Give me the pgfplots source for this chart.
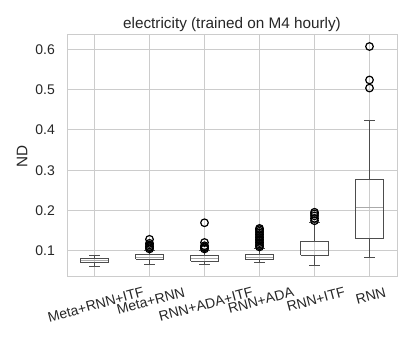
\documentclass[border=0pt]{standalone}
\usepackage{fontspec}
\setmainfont{Liberation Sans}
\usepackage{pgfplots}
\pgfplotsset{compat=1.18}

\definecolor{gridc}{HTML}{CCCCCC}
\definecolor{txt}{HTML}{262626}
\definecolor{boxc}{HTML}{4D4D4D}
\definecolor{medc}{HTML}{AAAAAA}

% rotated tick label whose rotated box top sits on one line (like ha=center)
\newlength\labw
\newcommand\lab[1]{\setbox0=\hbox{#1}\labw=0.1294\wd0\relax
  \raisebox{0pt}[\dimexpr\ht0+0.9659\labw\relax][\dp0]{\copy0\hskip0.5176\labw}}

% one box: position, lower whisker, lower quartile, median, upper quartile, upper whisker
\newcommand\bx[6]{%
  \pgfmathsetmacro\bxl{#1-0.25}\pgfmathsetmacro\bxr{#1+0.25}%
  \pgfmathsetmacro\bcl{#1-0.1}\pgfmathsetmacro\bcr{#1+0.1}%
  \edef\tmp{\noexpand\addplot[boxc, line width=1bp, mark=none, line join=miter, unbounded coords=jump]
    coordinates {(\bxl,#3)(\bxr,#3)(\bxr,#5)(\bxl,#5)(\bxl,#3) (#1,nan)
      (#1,#5)(#1,#6) (#1,nan) (\bcl,#6)(\bcr,#6) (#1,nan)
      (#1,#3)(#1,#2) (#1,nan) (\bcl,#2)(\bcr,#2)};
    \noexpand\addplot[medc, line width=1bp, mark=none] coordinates {(\bxl,#4)(\bxr,#4)};}%
  \tmp}

\begin{document}
\begin{tikzpicture}
\begin{axis}[
  scale only axis,
  width=330bp, height=242bp,
  xmin=0.5, xmax=6.5,
  ymin=0.0355, ymax=0.6355,
  xtick={1,2,3,4,5,6},
  xticklabels={\lab{Meta+RNN+ITF},\lab{Meta+RNN},\lab{RNN+ADA+ITF},\lab{RNN+ADA},\lab{RNN+ITF},\lab{RNN}},
  ytick={0.1,0.2,0.3,0.4,0.5,0.6},
  grid=major,
  grid style={gridc, line width=1bp},
  axis line style={gridc, line width=1bp},
  major tick length=0pt,
  xticklabel style={yshift=-10bp, rotate=15, anchor=north, inner sep=0pt,
    font=\fontsize{14bp}{16bp}\selectfont, text=txt},
  yticklabel style={xshift=-12bp, anchor=east, inner sep=0pt,
    font=\fontsize{14bp}{16bp}\selectfont, text=txt,
    /pgf/number format/fixed, /pgf/number format/fixed zerofill,
    /pgf/number format/precision=1, /pgf/number format/assume math mode=true},
  title={electricity (trained on M4 hourly)},
  title style={at={(axis description cs:0.5,1)}, anchor=base, yshift=1bp,
    font=\fontsize{15.3bp}{18bp}\selectfont, text=txt},
  ylabel={ND},
  ylabel style={at={(axis description cs:-0.1364,0.5)}, anchor=center,
    font=\fontsize{15.3bp}{18bp}\selectfont, text=txt},
  outl/.style={only marks, mark=o, mark size=3.8bp, black, line width=1.2bp},
]
\bx{1}{0.062}{0.071}{0.076}{0.081}{0.090}
\bx{2}{0.067}{0.079}{0.085}{0.091}{0.102}
\bx{3}{0.067}{0.075}{0.081}{0.088}{0.102}
\bx{4}{0.071}{0.078}{0.085}{0.091}{0.107}
\bx{5}{0.065}{0.089}{0.102}{0.123}{0.171}
\bx{6}{0.083}{0.130}{0.207}{0.276}{0.424}
% outliers
\addplot[outl] coordinates {(2,0.105)(2,0.108)(2,0.111)(2,0.115)(2,0.119)(2,0.129)};
\addplot[outl] coordinates {(3,0.105)(3,0.108)(3,0.110)(3,0.113)(3,0.121)(3,0.170)};
\addplot[outl] coordinates {(4,0.110)(4,0.113)(4,0.117)(4,0.121)(4,0.125)(4,0.129)(4,0.133)
  (4,0.137)(4,0.141)(4,0.145)(4,0.149)(4,0.153)(4,0.156)};
\addplot[outl] coordinates {(5,0.175)(5,0.181)(5,0.187)(5,0.192)(5,0.196)};
\addplot[outl] coordinates {(6,0.504)(6,0.524)(6,0.607)};
\end{axis}
\pgfresetboundingbox
\path ([shift={(-67bp,-67bp)}]current axis.south west) rectangle ([shift={(16bp,35bp)}]current axis.north east);
\end{tikzpicture}
\end{document}
